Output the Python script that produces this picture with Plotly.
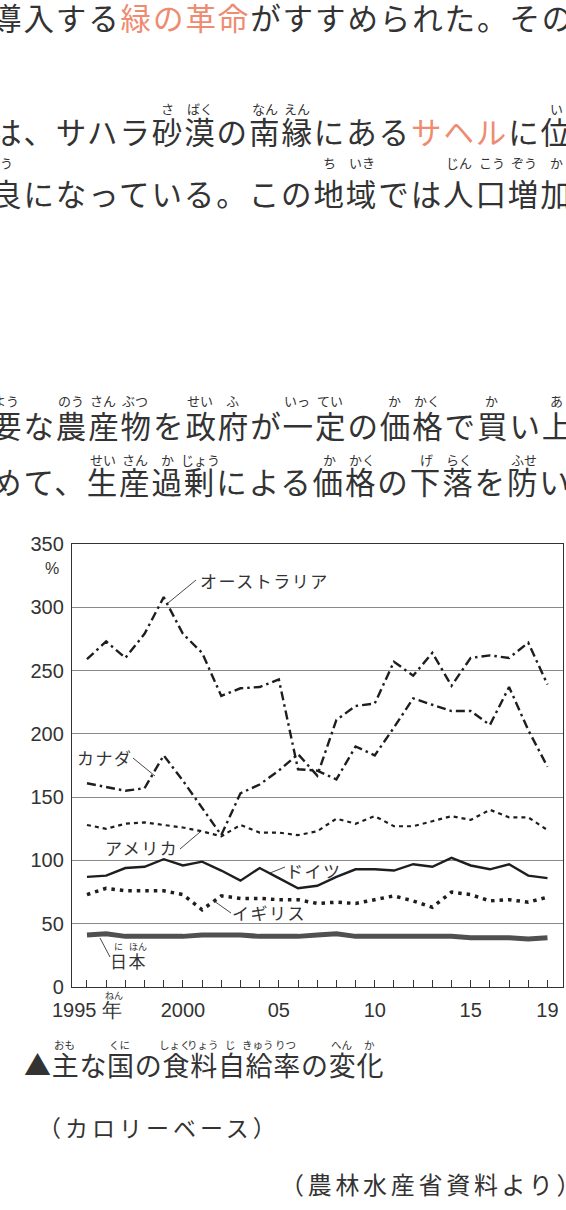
import plotly.graph_objects as go

# ---------------- data ----------------
years = list(range(1995, 2020))
australia = [259, 273, 260, 279, 308, 279, 264, 230, 236, 237, 243, 172, 171,
             164, 190, 183, 205, 228, 223, 218, 218, 207, 237, 203, 174]
canada = [161, 158, 155, 157, 183, 163, 142, 120, 153, 160, 171, 184, 167,
          211, 222, 224, 257, 246, 264, 238, 260, 262, 260, 272, 239]
usa = [128, 125, 129, 130, 128, 126, 123, 119, 128, 122, 122, 120, 123,
       133, 129, 135, 127, 127, 131, 135, 132, 140, 134, 134, 124]
germany = [87, 88, 94, 95, 101, 96, 99, 92, 84, 94, 86, 78, 80,
           87, 93, 93, 92, 97, 95, 102, 96, 93, 97, 88, 86]
uk = [73, 78, 76, 76, 76, 73, 61, 72, 70, 70, 69, 69, 66,
      67, 66, 69, 72, 68, 63, 75, 73, 68, 69, 67, 71]
japan = [41, 42, 40, 40, 40, 40, 41, 41, 41, 40, 40, 40, 41,
         42, 40, 40, 40, 40, 40, 40, 39, 39, 39, 38, 39]

y_ticks = [0, 50, 100, 150, 200, 250, 300, 350]
x_labels = {1995: "1995 年", 2000: "2000", 2005: "05", 2010: "10", 2015: "15", 2019: "19"}

# ---------------- layout constants ----------------
W, H = 566, 1210
ML, MR, MT, MB = 72, 3, 544, 223
PW, PH = W - ML - MR, H - MT - MB
JP = "Noto Sans CJK JP"
LAT = "Liberation Sans, Arial, sans-serif"
TXT = "#333333"
RED = "#ee8c72"
LINE = "#1e1e1e"


def px(x):
    return (x - ML) / PW


def py(y):
    return (H - MB - y) / PH


fig = go.Figure()

series = [
    (australia, dict(color=LINE, width=2.4, dash="9px,4px,2.5px,4px")),
    (canada, dict(color=LINE, width=2.4, dash="9px,4px,2.5px,4px")),
    (usa, dict(color=LINE, width=2.2, dash="4px,4px")),
    (germany, dict(color=LINE, width=2.4)),
    (uk, dict(color=LINE, width=3.5, dash="3.5px,5px")),
    (japan, dict(color="#505050", width=5)),
]
for vals, ln in series:
    fig.add_trace(go.Scatter(x=years, y=vals, mode="lines", line=ln,
                             showlegend=False, hoverinfo="skip"))

fig.update_layout(
    width=W, height=H,
    margin=dict(l=ML, r=MR, t=MT, b=MB, autoexpand=False),
    paper_bgcolor="white", plot_bgcolor="white", showlegend=False,
    xaxis=dict(range=[1994.22, 2019.81], tickmode="array", tickvals=years,
               ticktext=[x_labels.get(y, "") for y in years],
               ticks="inside", ticklen=7, tickwidth=1, tickcolor="#333",
               showline=True, linecolor="#333", linewidth=1.2, mirror=True,
               showgrid=False, zeroline=False, ticklabelstandoff=5,
               tickfont=dict(family=LAT, size=20, color=TXT)),
    yaxis=dict(range=[0, 350], tickmode="array", tickvals=y_ticks,
               ticks="", showline=True, linecolor="#333", linewidth=1.2, mirror=True,
               showgrid=True, gridcolor="#8a8a8a", gridwidth=1, zeroline=False,
               ticklabelstandoff=3,
               tickfont=dict(family=LAT, size=20, color=TXT)),
)


def text(x, y, s, size, anchor="left", family=JP, color=TXT):
    fig.add_annotation(x=px(x), y=py(y), xref="paper", yref="paper", text=s,
                       showarrow=False, xanchor=anchor, yanchor="middle",
                       borderpad=0, font=dict(size=size, color=color, family=family))


def seg_text(x, y, segs, size, ls):
    html = "".join(
        f"<span style='letter-spacing:{ls}px;color:{c}'>{t}</span>" for t, c in segs)
    fig.add_annotation(x=px(x), y=py(y), xref="paper", yref="paper", text=html,
                       showarrow=False, xanchor="left", yanchor="middle",
                       borderpad=0, font=dict(size=size, color=TXT, family=JP))


def ruby(x0, pitch, y, items, size=13):
    for idx, r in items:
        cx = x0 + (idx + 0.5) * pitch
        text(cx, y, r, size, anchor="center")


# ---------------- body text ----------------
BX0, BP, BFS = -10.5, 32.4, 30.5
BLS = BP - BFS

seg_text(BX0, 17, [("導入する", TXT), ("緑の革命", RED), ("がすすめられた。その", TXT)], BFS, BLS)

seg_text(BX0, 131, [("は、サハラ砂漠の南縁にある", TXT), ("サヘル", RED), ("に位", TXT)], BFS, BLS)
ruby(BX0, BP, 108, [(5, "さ"), (6, "ばく"), (8, "なん"), (9, "えん"), (17, "い")])

seg_text(BX0, 193, [("良になっている。この地域では人口増加", TXT)], BFS, BLS)
text(14, 163, "ょう", 13, anchor="right")
ruby(BX0, BP, 163, [(10, "ち"), (11, "いき"), (14, "じん"), (15, "こう"), (16, "ぞう"), (17, "か")])

seg_text(BX0, 425, [("要な農産物を政府が一定の価格で買い上", TXT)], BFS, BLS)
ruby(BX0, BP, 400, [(0, "よう"), (2, "のう"), (3, "さん"), (4, "ぶつ"), (6, "せい"), (7, "ふ"),
                    (9, "いっ"), (10, "てい"), (12, "か"), (13, "かく"), (15, "か"), (17, "あ")])

seg_text(BX0, 481, [("めて、生産過剰による価格の下落を防い", TXT)], BFS, BLS)
ruby(BX0, BP, 459, [(3, "せい"), (4, "さん"), (5, "か"), (6, "じょう"), (10, "か"), (11, "かく"),
                    (13, "げ"), (14, "らく"), (16, "ふせ")])

# ---------------- caption ----------------
CX0, CP = 22.8, 27.7
seg_text(CX0, 1064, [("▲主な国の食料自給率の変化", TXT)], 27, CP - 27)
ruby(CX0, CP, 1044, [(1, "おも"), (3, "くに"), (5, "しょく"), (6, "りょう"), (7, "じ"),
                     (8, "きゅう"), (9, "りつ"), (11, "へん"), (12, "か")], size=10.5)
seg_text(37, 1127, [("（カロリーベース）", TXT)], 23, 4)
seg_text(279, 1183, [("（農林水産省資料より）", TXT)], 24, 3.7)

# ---------------- chart labels ----------------
text(52, 568, "%", 16, anchor="center", family=LAT)
text(114, 995, "ねん", 9, anchor="center")

labels = [
    ("オーストラリア", 199, 580),
    ("カナダ", 76, 757),
    ("アメリカ", 104, 847),
    ("ドイツ", 285, 870),
    ("イギリス", 231, 912),
    ("日本", 109, 960),
]
for s, x, y in labels:
    seg_text(x, y, [(s, TXT)], 17, 1.5)
text(118, 946, "に", 9, anchor="center")
text(138, 946, "ほん", 9, anchor="center")

leaders = [
    ((196, 580), (168, 603)),
    ((133, 758), (155, 776)),
    ((180, 849), (200, 832)),
    ((270, 873), (285, 867)),
    ((231, 913), (214, 901)),
    ((110, 957), (100, 938)),
]
for (x1, y1), (x2, y2) in leaders:
    fig.add_shape(type="line", xref="paper", yref="paper",
                  x0=px(x1), y0=py(y1), x1=px(x2), y1=py(y2),
                  line=dict(color="#333", width=0.9))

fig.write_html("out.html",
               config={"displayModeBar": False, "staticPlot": True},
               post_script="document.body.style.margin='0';document.body.style.overflow='hidden';")
